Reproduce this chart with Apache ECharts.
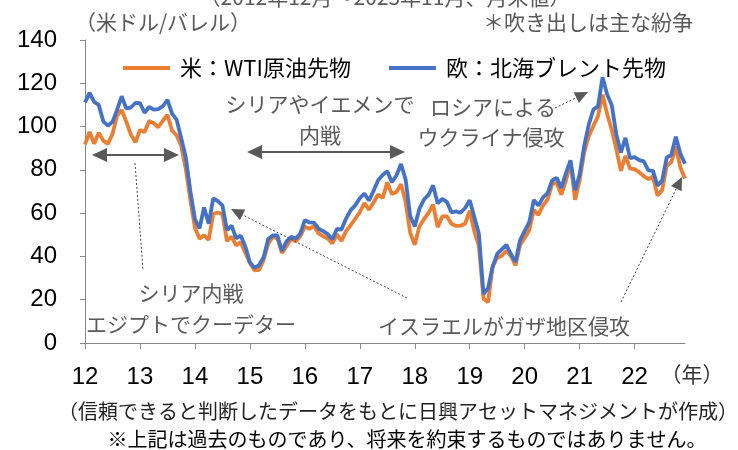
<!DOCTYPE html>
<html>
<head>
<meta charset="utf-8">
<script src="https://cdn.jsdelivr.net/npm/echarts@6/dist/echarts.min.js"></script>
<style>
  html, body { margin: 0; background: #fff; }
  #chart { width: 738px; height: 450px; }
</style>
</head>
<body>
<div id="chart"></div>
<script>
// month-end prices, 2012/12 .. 2023/11
const months = [];
for (let i = 0, y = 2012, m = 12; i < 132; i++) {
  months.push(y + "/" + String(m).padStart(2, "0"));
  m++;
  if (m > 12) { m = 1; y++; }
}

const wti = [
  91.8,
  97.5, 92.1, 97.2, 93.5, 92.0, 96.6, 105.0, 107.7, 102.3, 96.4, 92.7, 98.4,
  97.5, 102.6, 101.6, 99.7, 102.7, 105.4, 98.2, 96.0, 91.2, 80.5, 66.2, 53.3,
  48.2, 49.8, 47.6, 59.6, 60.3, 59.5, 47.1, 49.2, 45.1, 46.6, 41.7, 37.0,
  33.6, 33.8, 38.3, 45.9, 49.1, 48.3, 41.6, 44.7, 48.2, 46.9, 49.4, 53.7,
  52.8, 54.0, 50.6, 49.3, 48.3, 46.0, 50.2, 47.2, 51.7, 54.4, 57.4, 60.4,
  64.7, 61.6, 64.9, 68.6, 67.0, 74.2, 68.8, 69.8, 73.3, 65.3, 50.9, 45.4,
  53.8, 57.2, 60.1, 63.9, 53.5, 58.5, 58.6, 55.1, 54.1, 54.2, 55.2, 61.1,
  51.6, 44.8, 20.5, 18.8, 35.5, 39.3, 40.3, 42.6, 40.2, 35.8, 45.3, 48.5,
  52.2, 61.5, 59.2, 63.6, 66.3, 73.5, 74.0, 68.5, 75.0, 83.6, 66.2, 75.2,
  88.2, 95.7, 100.3, 104.7, 114.7, 105.8, 98.6, 89.6, 79.5, 86.5, 80.6, 80.3,
  78.9, 77.1, 75.7, 76.8, 68.1, 70.6, 81.8, 83.6, 90.8, 81.0, 76.0
];

const brent = [
  111.1,
  115.6, 111.4, 110.0, 102.4, 100.4, 102.2, 107.7, 114.0, 108.4, 108.8, 110.9, 110.8,
  106.4, 109.1, 107.8, 108.1, 109.4, 112.4, 106.0, 103.2, 94.7, 85.9, 70.2, 57.3,
  53.0, 62.6, 55.1, 66.8, 65.6, 63.6, 52.2, 54.2, 48.4, 49.6, 44.6, 37.3,
  34.7, 36.0, 39.6, 48.1, 49.7, 49.7, 42.5, 47.0, 49.1, 48.3, 50.5, 56.8,
  55.7, 55.6, 52.8, 51.7, 50.3, 47.9, 52.7, 52.4, 57.5, 61.4, 63.6, 66.9,
  69.1, 65.8, 70.3, 75.2, 77.6, 79.4, 74.3, 77.4, 82.7, 75.5, 58.7, 53.8,
  61.9, 66.3, 68.4, 72.8, 64.5, 66.6, 65.2, 60.4, 60.8, 60.2, 62.4, 66.0,
  58.2, 50.5, 22.7, 25.3, 35.3, 41.2, 43.3, 45.3, 41.0, 37.5, 47.6, 51.8,
  55.9, 66.1, 63.5, 67.3, 69.3, 75.1, 76.3, 71.6, 78.5, 84.4, 70.6, 77.8,
  91.2, 101.0, 107.9, 109.3, 122.8, 114.8, 110.0, 96.5, 88.0, 94.8, 85.4, 85.9,
  84.5, 83.9, 79.8, 79.5, 72.7, 74.9, 85.6, 86.9, 95.3, 87.4, 82.8
];

const seriesNames = ["米：WTI原油先物", "欧：北海ブレント先物"];

const JP = "'Noto Sans CJK JP', sans-serif";
const NUM = "'Liberation Sans', Arial, sans-serif";
const GRAY = "#595959";

function txt(text, x, y, size, color) {
  return {
    type: "text", z: 100, silent: true,
    style: {
      text, x, y, fill: color || GRAY, font: size + "px " + JP,
      align: "center", verticalAlign: "middle",
      textAlign: "center", textVerticalAlign: "middle"
    }
  };
}
function head(tx, ty, fx, fy, len, half) {
  const dx = tx - fx, dy = ty - fy, d = Math.hypot(dx, dy);
  const ux = dx / d, uy = dy / d;
  const bx = tx - ux * len, by = ty - uy * len;
  return {
    type: "polygon", z: 100, silent: true,
    shape: { points: [[tx, ty], [bx - uy * half, by + ux * half], [bx + uy * half, by - ux * half]] },
    style: { fill: GRAY }
  };
}
function seg(x1, y1, x2, y2, dotted) {
  return {
    type: "line", z: 99, silent: true,
    shape: { x1, y1, x2, y2 },
    style: dotted ? { stroke: "#444", lineWidth: 1, lineDash: [2, 2] } : { stroke: GRAY, lineWidth: 2 }
  };
}
function dblArrow(x1, x2, y) {
  return [seg(x1 + 10, y, x2 - 10, y, false), head(x1, y, x2, y, 15, 7), head(x2, y, x1, y, 15, 7)];
}
function callout(fx, fy, tx, ty) {
  return [seg(fx, fy, tx - (tx - fx) * 0.04, ty - (ty - fy) * 0.04, true), head(tx, ty, fx, fy, 13, 6)];
}

const graphics = [
  txt("（2012年12月～2023年11月、月末値）", 385, -3, 21),
  txt("（米ドル/バレル）", 163, 22, 21),
  txt("＊吹き出しは主な紛争", 588, 22, 21),
  txt("シリアやイエメンで", 320, 104, 21),
  txt("内戦", 320, 135, 21),
  txt("ロシアによる", 493, 107, 21),
  txt("ウクライナ侵攻", 491, 137, 21),
  txt("シリア内戦", 191, 293, 21),
  txt("エジプトでクーデター", 191, 324, 21),
  txt("イスラエルがガザ地区侵攻", 504, 326, 21),
  txt("（年）", 692, 374, 21, "#333"),
  txt("（信頼できると判断したデータをもとに日興アセットマネジメントが作成）", 398, 411, 20, "#222"),
  txt("※上記は過去のものであり、将来を約束するものではありません。", 407, 439, 20, "#000"),
  ...dblArrow(92, 179, 155),
  ...dblArrow(247, 405, 152),
  seg(135, 163, 143, 270, true),
  ...callout(407, 298, 231, 209),
  ...callout(621, 302, 682, 177),
  ...callout(555, 108, 588, 92)
];

const chart = echarts.init(document.getElementById("chart"), null, { renderer: "canvas" });
chart.setOption({
  animation: false,
  grid: { left: 85, right: 53, top: 40, bottom: 107, containLabel: false },
  legend: {
    left: 118, top: 52,
    icon: "rect",
    itemWidth: 47, itemHeight: 4, itemGap: 38,
    textStyle: { fontSize: 22, color: "#000", fontFamily: JP, padding: [0, 0, 0, 5] },
    data: seriesNames
  },
  xAxis: {
    type: "category",
    data: months,
    boundaryGap: false,
    axisLine: { lineStyle: { color: "#888", width: 1 } },
    axisTick: { interval: (i) => i % 12 === 0, length: 6, lineStyle: { color: "#888" } },
    axisLabel: {
      interval: (i) => i % 12 === 0,
      formatter: (v) => v.slice(2, 4),
      fontSize: 24, color: "#000", fontFamily: NUM, margin: 22
    },
    splitLine: { show: false }
  },
  yAxis: {
    type: "value",
    min: 0, max: 140, interval: 20,
    axisLine: { show: true, lineStyle: { color: "#888", width: 1 } },
    axisTick: { show: true, length: 5, lineStyle: { color: "#888" } },
    axisLabel: { fontSize: 24, color: "#000", fontFamily: NUM, margin: 28 },
    splitLine: { show: false }
  },
  series: [
    {
      name: seriesNames[0], type: "line", data: wti, symbol: "none",
      lineStyle: { width: 3.8, color: "#ED7D31" }, itemStyle: { color: "#ED7D31" }, z: 2
    },
    {
      name: seriesNames[1], type: "line", data: brent, symbol: "none",
      lineStyle: { width: 3.8, color: "#4472C4" }, itemStyle: { color: "#4472C4" }, z: 3
    }
  ],
  graphic: graphics
});
</script>
</body>
</html>
